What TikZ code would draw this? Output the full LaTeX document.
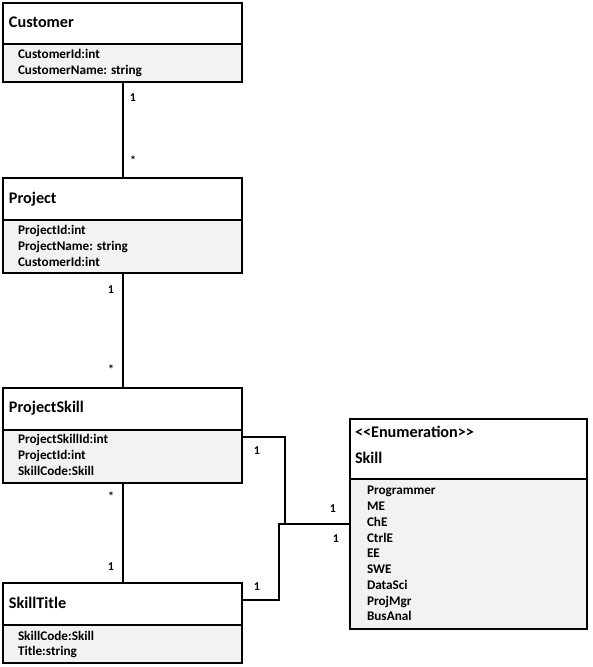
\documentclass[tikz,border=0pt]{standalone}
\usepackage{fontspec}
\setmainfont{Carlito}
\begin{document}
\begin{tikzpicture}[x=1pt,y=1pt,
  hdrbox/.style={draw=drawColor,fill=white,line width=2pt,anchor=north west,inner sep=0pt,outer sep=0pt},
  attrbox/.style={draw=drawColor,fill=fillColor,line width=2pt,anchor=north west,inner sep=0pt,outer sep=0pt},
  title/.style={text=drawColor,anchor=base west,inner sep=0pt,outer sep=0pt,font=\bfseries\fontsize{16.2}{19}\selectfont},
  attr/.style={text=drawColor,anchor=base west,inner sep=0pt,outer sep=0pt,font=\bfseries\fontsize{13.2}{15}\selectfont},
  mult/.style={text=drawColor,anchor=center,inner sep=0pt,outer sep=0pt,font=\bfseries\fontsize{12}{14}\selectfont},
  link/.style={draw=drawColor,line width=2pt}]
\definecolor{drawColor}{RGB}{0,0,0}
\definecolor{fillColor}{RGB}{242,242,242}
\useasboundingbox (0,0) rectangle (592,667);

% Customer
\node[hdrbox,minimum width=239,minimum height=41] (customer) at (3,664) {};
\node[attrbox,minimum width=239,minimum height=38] (customerAttr) at (3,623) {};
\node[title] (customerName) at (9,639) {Customer};
\node[attr] (customerA1) at (18,608) {CustomerId:int};
\node[attr] (customerA2) at (18,592) {CustomerName: string};

% Project
\node[hdrbox,minimum width=239,minimum height=42] (project) at (3,489) {};
\node[attrbox,minimum width=239,minimum height=53] (projectAttr) at (3,447) {};
\node[title] (projectName) at (9,463) {Project};
\node[attr] (projectA1) at (18,432) {ProjectId:int};
\node[attr] (projectA2) at (18,416) {ProjectName: string};
\node[attr] (projectA3) at (18,400) {CustomerId:int};

% ProjectSkill
\node[hdrbox,minimum width=239,minimum height=42] (projectSkill) at (3,279) {};
\node[attrbox,minimum width=239,minimum height=53] (projectSkillAttr) at (3,237) {};
\node[title] (projectSkillName) at (9,254) {ProjectSkill};
\node[attr] (projectSkillA1) at (18,223) {ProjectSkillId:int};
\node[attr] (projectSkillA2) at (18,207) {ProjectId:int};
\node[attr] (projectSkillA3) at (18,191) {SkillCode:Skill};

% SkillTitle
\node[hdrbox,minimum width=239,minimum height=42] (skillTitle) at (3,84) {};
\node[attrbox,minimum width=239,minimum height=38] (skillTitleAttr) at (3,42) {};
\node[title] (skillTitleName) at (9,58) {SkillTitle};
\node[attr] (skillTitleA1) at (18,27) {SkillCode:Skill};
\node[attr] (skillTitleA2) at (18,11) {Title:string};

% Skill (enumeration)
\node[hdrbox,minimum width=237,minimum height=60] (skill) at (350,248) {};
\node[attrbox,minimum width=237,minimum height=150] (skillAttr) at (350,188) {};
\node[title] (skillStereo) at (355,229) {{<}{<}Enumeration{>}{>}};
\node[title] (skillName) at (355,203) {Skill};
\foreach \val [count=\i] in {Programmer,ME,ChE,CtrlE,EE,SWE,DataSci,ProjMgr,BusAnal}
  \node[attr] (skillV\i) at (367,{187.75-15.75*\i}) {\val};

% connectors
\coordinate (skillIn) at (350,143);
\path[link] (customerAttr.south) -- (project.north);
\path[link] (projectAttr.south) -- (projectSkill.north);
\path[link] (projectSkillAttr.south) -- (skillTitle.north);
\path[link] ([yshift=-7pt]projectSkillAttr.north east) -| ([xshift=-65pt]skillIn) -- (skillIn);
\path[link] ([yshift=-17pt]skillTitle.north east) -| ([xshift=-71pt]skillIn) -- (skillIn);

% multiplicities
\node[mult] (m1) at (133,569) {1};
\node[mult] (m2) at (133,507) {*};
\node[mult] (m3) at (111,377) {1};
\node[mult] (m4) at (111,298) {*};
\node[mult] (m5) at (111,171) {*};
\node[mult] (m6) at (111,100) {1};
\node[mult] (m7) at (257,216) {1};
\node[mult] (m8) at (333,158) {1};
\node[mult] (m9) at (336,128) {1};
\node[mult] (m10) at (257,80) {1};
\end{tikzpicture}
\end{document}
